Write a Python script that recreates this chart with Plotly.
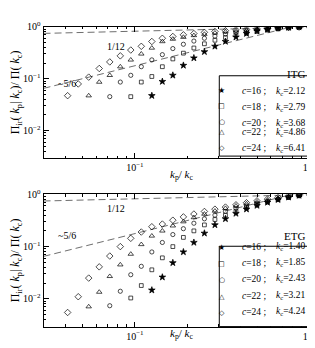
import plotly.graph_objects as go

# k_p/k_c for shells p = c-23 .. c (last c entries used by each series)
kp_kc = [0.0412, 0.0474, 0.0544, 0.0625, 0.0718, 0.0825, 0.0947, 0.1088,
         0.125, 0.1436, 0.1649, 0.1895, 0.2176, 0.25, 0.2872, 0.3299,
         0.3789, 0.4353, 0.5, 0.5743, 0.6598, 0.7579, 0.8706, 1.0]

c_values = [16, 18, 20, 22, 24]
kc_itg = ["2.12", "2.79", "3.68", "4.86", "6.41"]
kc_etg = ["1.40", "1.85", "2.43", "3.21", "4.24"]

itg_c16 = [0.047, 0.088, 0.116, 0.18, 0.25, 0.33, 0.42, 0.52, 0.63, 0.74, 0.83, 0.89, 0.94, 0.97, 0.99, 1.0]
itg_c18 = [0.045, 0.086, 0.11, 0.17, 0.24, 0.31, 0.39, 0.47, 0.55, 0.62, 0.69, 0.75, 0.81, 0.86, 0.91, 0.95, 0.98, 1.0]
itg_c20 = [0.045, 0.086, 0.116, 0.17, 0.23, 0.29, 0.38, 0.46, 0.53, 0.60, 0.66, 0.72, 0.77, 0.82, 0.86, 0.90, 0.93, 0.96, 0.98, 1.0]
itg_c22 = [0.047, 0.086, 0.116, 0.17, 0.23, 0.30, 0.39, 0.52, 0.58, 0.63, 0.68, 0.72, 0.76, 0.80, 0.84, 0.87, 0.90, 0.92, 0.94, 0.96, 0.98, 1.0]
itg_c24 = [0.047, 0.079, 0.107, 0.157, 0.21, 0.275, 0.356, 0.42, 0.52, 0.60, 0.65, 0.70, 0.74, 0.78, 0.81, 0.84, 0.87, 0.89, 0.91, 0.93, 0.95, 0.97, 0.985, 1.0]

etg_c16 = [0.0147, 0.026, 0.049, 0.079, 0.12, 0.18, 0.26, 0.34, 0.43, 0.52, 0.61, 0.70, 0.79, 0.88, 0.95, 1.0]
etg_c18 = [0.0104, 0.018, 0.036, 0.061, 0.10, 0.15, 0.20, 0.26, 0.33, 0.40, 0.47, 0.55, 0.63, 0.71, 0.79, 0.87, 0.95, 1.0]
etg_c20 = [0.0074, 0.014, 0.029, 0.042, 0.079, 0.12, 0.17, 0.22, 0.28, 0.34, 0.40, 0.47, 0.54, 0.60, 0.67, 0.74, 0.81, 0.88, 0.95, 1.0]
etg_c22 = [0.0071, 0.0135, 0.027, 0.045, 0.072, 0.11, 0.16, 0.20, 0.25, 0.30, 0.36, 0.42, 0.48, 0.54, 0.60, 0.66, 0.72, 0.78, 0.84, 0.90, 0.96, 1.0]
etg_c24 = [0.0055, 0.011, 0.025, 0.041, 0.066, 0.10, 0.144, 0.19, 0.24, 0.27, 0.32, 0.37, 0.42, 0.47, 0.52, 0.57, 0.63, 0.69, 0.75, 0.81, 0.87, 0.92, 0.97, 1.0]

# guide lines (power laws, endpoints)
line112_x = [0.03, 1.05]
line112_y = [0.745, 0.99]
line56_x = [0.03, 1.05]
line56_y = [0.065, 1.26]

# axis ticks
major_ticks = [0.01, 0.1, 1.0]
major_text = ["10<sup>−2</sup>", "10<sup>−1</sup>", "10<sup>0</sup>"]
minor_ticks = [0.002, 0.003, 0.004, 0.005, 0.006, 0.007, 0.008, 0.009,
               0.02, 0.03, 0.04, 0.05, 0.06, 0.07, 0.08, 0.09,
               0.2, 0.3, 0.4, 0.5, 0.6, 0.7, 0.8, 0.9]

itg = [itg_c16, itg_c18, itg_c20, itg_c22, itg_c24]
etg = [etg_c16, etg_c18, etg_c20, etg_c22, etg_c24]
symbols = ["star", "square-open", "circle-open", "triangle-up-open", "diamond-open"]
legend_glyphs = ["★", "□", "○", "△", "◇"]
sizes = [5, 3.8, 4.2, 4.8, 5]

FONT = "Liberation Serif"
W, H = 315, 348
fig = go.Figure()

def px(x):
    return x / W

def py(y):
    return 1 - y / H

def add_panel(data, xa, ya):
    for lx, ly in [(line112_x, line112_y), (line56_x, line56_y)]:
        fig.add_trace(go.Scatter(x=lx, y=ly, mode="lines", xaxis=xa, yaxis=ya, hoverinfo="skip",
                                 line=dict(color="#6e6e6e", width=1, dash="7px,4px"), showlegend=False))
    for c, ys, sym, sz in zip(c_values, data, symbols, sizes):
        xs = kp_kc[-c:]
        fig.add_trace(go.Scatter(
            x=xs, y=ys, mode="markers", xaxis=xa, yaxis=ya, showlegend=False,
            name=f"c={c}",
            marker=dict(symbol=sym, size=sz, color="black", line=dict(color="black", width=0.7))))

add_panel(itg, "x", "y")
add_panel(etg, "x2", "y2")

xdom = [36 / W, 309 / W]
top_dom = [py(146), py(12)]
bot_dom = [py(318), py(183)]

axis_common = dict(type="log", showline=True, linecolor="black", linewidth=1, mirror="allticks",
                   ticks="inside", ticklen=5, tickcolor="black", showgrid=False, zeroline=False,
                   tickmode="array", tickvals=major_ticks, ticktext=major_text,
                   minor=dict(ticks="inside", ticklen=2.5, tickcolor="black", showgrid=False,
                              tickmode="array", tickvals=minor_ticks),
                   tickfont=dict(family=FONT, size=10, color="black"))
xr = [-1.523, 0.02]
yr = [-2.53, 0.0]
ytitle = "Π<sub>ir</sub>( <i>k</i><sub>p</sub>| <i>k</i><sub>c</sub>)/ Π( <i>k</i><sub>c</sub>)"
xtitle = "<i>k</i><sub>p</sub>/ <i>k</i><sub>c</sub>"

annotations = []
shapes = []

def legend_block(top, kcs):
    shapes.append(dict(type="rect", xref="paper", yref="paper",
                       x0=px(214), x1=px(306), y0=py(top + 82), y1=py(top),
                       line=dict(color="black", width=1), fillcolor="white", layer="above"))
    for i, (c, kc, g) in enumerate(zip(c_values, kcs, legend_glyphs)):
        yy = py(top + 8 + 16.5 * i)
        annotations.append(dict(text=g, x=px(222), y=yy, xref="paper", yref="paper",
                                showarrow=False, font=dict(family="DejaVu Sans", size=7 if i else 8)))
        annotations.append(dict(text=f"<i>c</i>={c} ;", x=px(235), y=yy, xref="paper", yref="paper",
                                xanchor="left", showarrow=False, font=dict(size=9.5)))
        annotations.append(dict(text=f"<i>k</i><sub>c</sub>={kc}", x=px(269), y=yy,
                                xref="paper", yref="paper", xanchor="left", showarrow=False,
                                font=dict(size=9.5)))

legend_block(62, kc_itg)
legend_block(236, kc_etg)

annotations += [
    dict(text="ITG", x=px(303), y=py(52), xref="paper", yref="paper", showarrow=False,
         xanchor="right", font=dict(size=11)),
    dict(text="ETG", x=px(303), y=py(226), xref="paper", yref="paper", showarrow=False,
         xanchor="right", font=dict(size=11)),
    dict(text="1/12", x=px(98), y=py(25), xref="paper", yref="paper", showarrow=False,
         font=dict(size=10)),
    dict(text="~5/6", x=px(49), y=py(62), xref="paper", yref="paper", showarrow=False,
         font=dict(size=10)),
    dict(text="1/12", x=px(98), y=py(197), xref="paper", yref="paper", showarrow=False,
         font=dict(size=10)),
    dict(text="~5/6", x=px(49), y=py(233), xref="paper", yref="paper", showarrow=False,
         font=dict(size=10)),
    dict(text=xtitle, x=px(176), y=py(163), xref="paper", yref="paper", showarrow=False,
         font=dict(size=11)),
    dict(text=xtitle, x=px(176), y=py(335), xref="paper", yref="paper", showarrow=False,
         font=dict(size=11)),
]

fig.update_layout(
    width=W, height=H, margin=dict(l=0, r=0, t=0, b=0),
    paper_bgcolor="white", plot_bgcolor="white",
    font=dict(family=FONT, color="black", size=11),
    showlegend=False,
    xaxis=dict(domain=xdom, range=xr, anchor="y", **axis_common),
    yaxis=dict(domain=top_dom, range=yr, anchor="x", **axis_common,
               title=dict(text=ytitle, font=dict(size=12), standoff=3)),
    xaxis2=dict(domain=xdom, range=xr, anchor="y2", **axis_common),
    yaxis2=dict(domain=bot_dom, range=yr, anchor="x2", **axis_common,
                title=dict(text=ytitle, font=dict(size=12), standoff=3)),
    annotations=annotations,
    shapes=shapes,
)

fig.write_html("out.html")
